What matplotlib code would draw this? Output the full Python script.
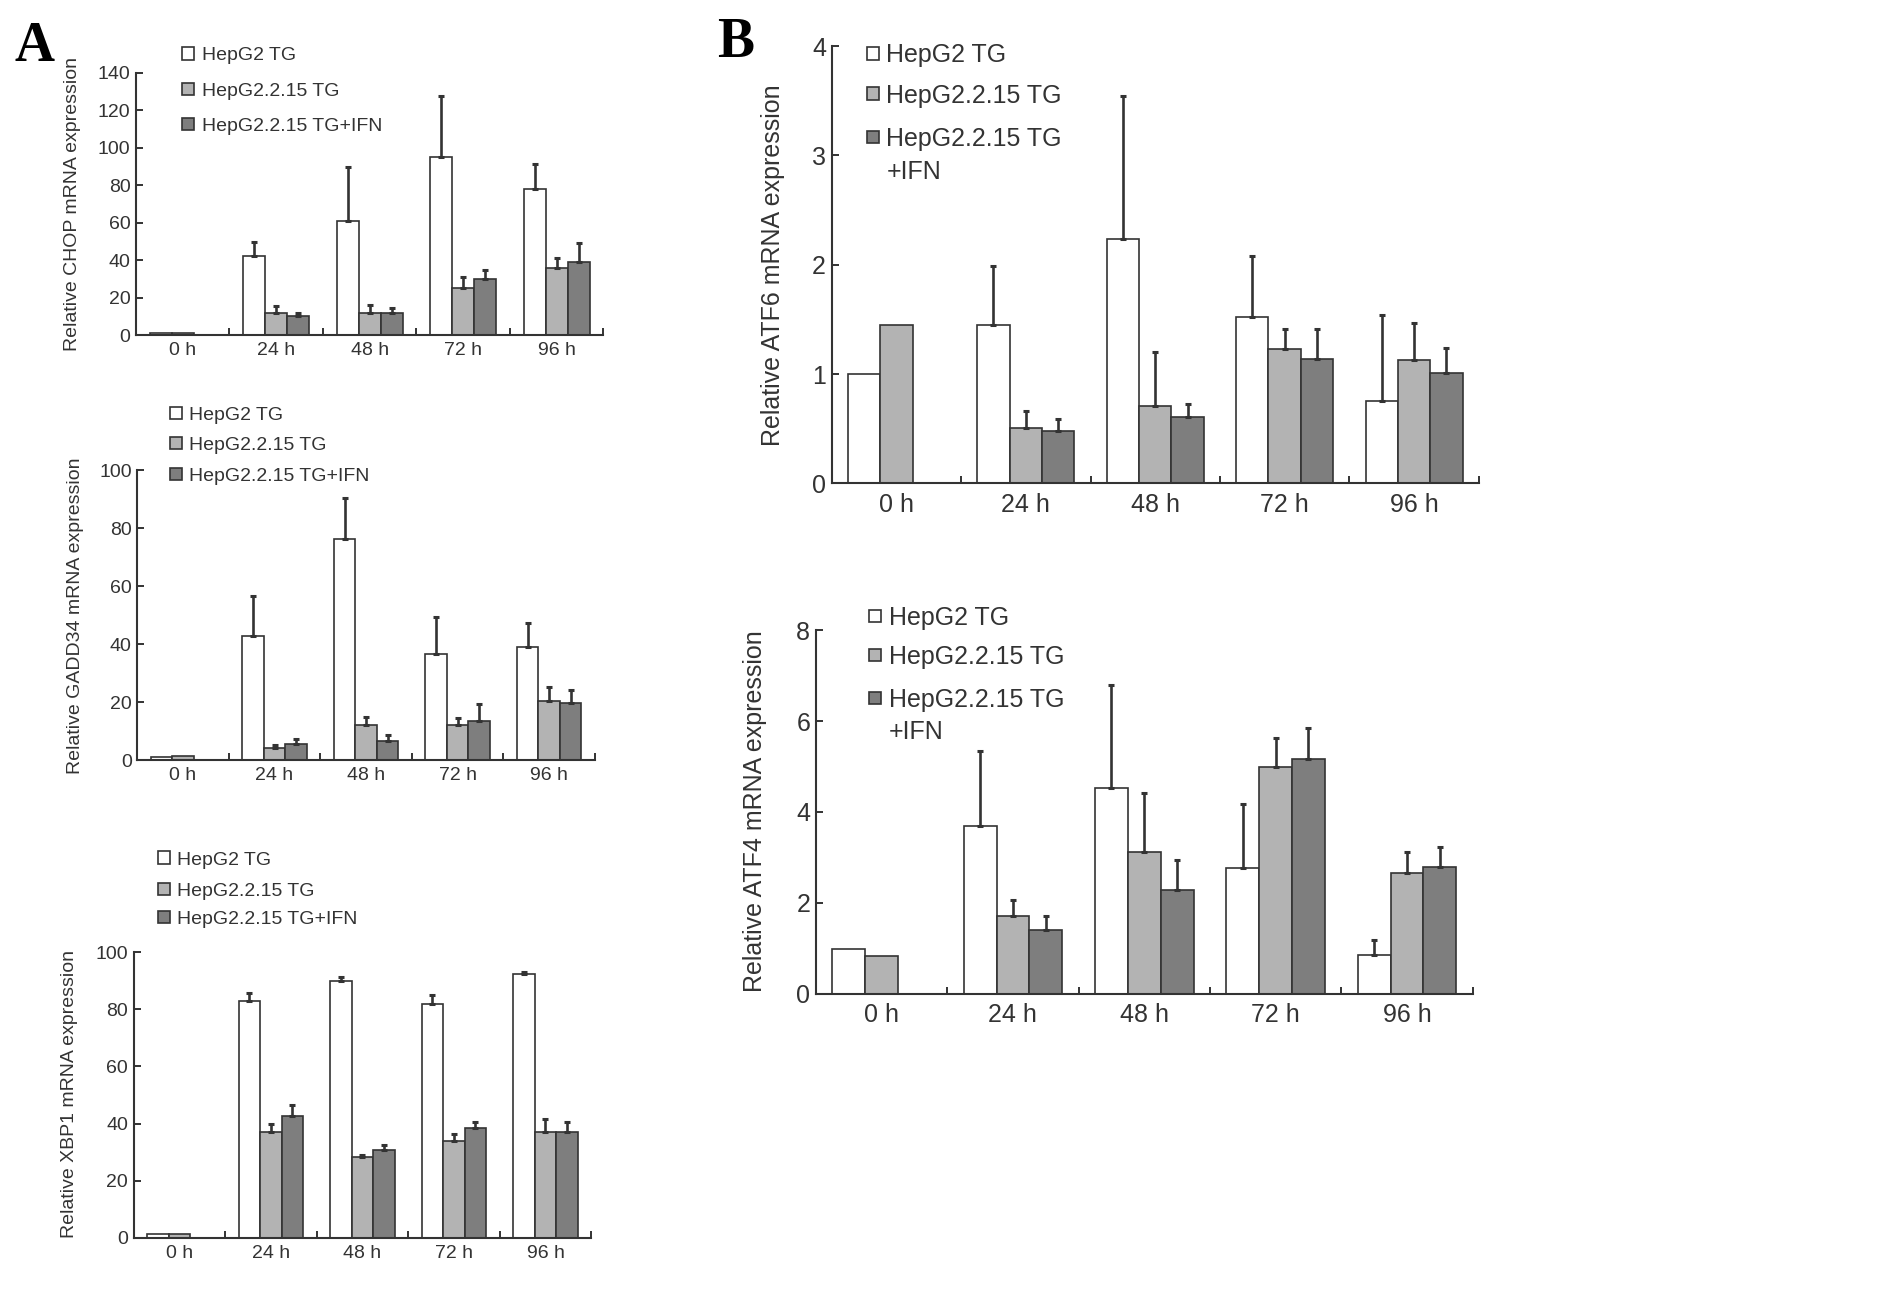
import numpy as np
import matplotlib
matplotlib.use('Agg')
import matplotlib.pyplot as plt
from matplotlib.patches import Rectangle

# ---- data ----
groups = ['0 h', '24 h', '48 h', '72 h', '96 h']
series_names = ['HepG2 TG', 'HepG2.2.15 TG', 'HepG2.2.15 TG+IFN']
nan = np.nan

# CHOP
chop_hepg2 = [1.0, 42.3, 61.0, 94.9, 77.9]
chop_hepg2_err = [nan, 7.3, 29.0, 33.0, 13.4]
chop_215 = [1.0, 12.1, 11.6, 25.3, 35.7]
chop_215_err = [nan, 3.4, 4.6, 5.7, 5.7]
chop_ifn = [nan, 10.3, 11.6, 30.0, 39.2]
chop_ifn_err = [nan, 1.8, 3.0, 4.6, 9.8]

# GADD34
gadd_hepg2 = [1.0, 42.7, 76.1, 36.8, 38.9]
gadd_hepg2_err = [nan, 13.8, 14.4, 12.7, 8.3]
gadd_215 = [1.5, 4.3, 12.3, 12.3, 20.6]
gadd_215_err = [nan, 0.9, 2.7, 2.3, 4.8]
gadd_ifn = [nan, 5.7, 6.8, 13.7, 19.8]
gadd_ifn_err = [nan, 1.7, 2.1, 5.6, 4.4]

# XBP1
xbp_hepg2 = [1.2, 83.0, 90.0, 82.0, 92.4]
xbp_hepg2_err = [nan, 2.9, 1.4, 3.0, 0.6]
xbp_215 = [1.2, 36.9, 28.4, 33.9, 36.9]
xbp_215_err = [nan, 3.0, 0.6, 2.5, 4.6]
xbp_ifn = [nan, 42.7, 30.8, 38.4, 37.2]
xbp_ifn_err = [nan, 3.9, 1.7, 2.3, 3.2]

# ATF6
atf6_hepg2 = [1.0, 1.45, 2.24, 1.52, 0.755]
atf6_hepg2_err = [nan, 0.54, 1.30, 0.56, 0.785]
atf6_215 = [1.45, 0.51, 0.71, 1.23, 1.13]
atf6_215_err = [nan, 0.15, 0.49, 0.18, 0.34]
atf6_ifn = [nan, 0.48, 0.61, 1.14, 1.01]
atf6_ifn_err = [nan, 0.11, 0.12, 0.27, 0.23]

# ATF4
atf4_hepg2 = [0.99, 3.70, 4.53, 2.76, 0.85]
atf4_hepg2_err = [nan, 1.65, 2.26, 1.42, 0.33]
atf4_215 = [0.83, 1.71, 3.11, 4.98, 2.65]
atf4_215_err = [nan, 0.35, 1.31, 0.65, 0.46]
atf4_ifn = [nan, 1.40, 2.29, 5.16, 2.79]
atf4_ifn_err = [nan, 0.30, 0.65, 0.70, 0.43]

colors = ['#ffffff', '#b3b3b3', '#7e7e7e']
ink = '#333333'

plt.rcParams['font.family'] = ['Liberation Sans', 'DejaVu Sans']
plt.rcParams['text.color'] = ink
plt.rcParams['axes.edgecolor'] = ink
plt.rcParams['xtick.color'] = ink
plt.rcParams['ytick.color'] = ink

# layout helpers, in the 1560x1081 frame the reference was measured in
W, H = 1560.0, 1081.0


def fx(x):
    return x / W


def fy(y):
    return 1 - y / H


def make_axes(fig, left, right, top, zero):
    return fig.add_axes([fx(left), fy(zero), fx(right - left), (zero - top) / H])


def bar_panel(ax, values, errors, ymax, yticks, width, fs, xpad):
    x = np.arange(len(groups))
    for i, (vals, errs) in enumerate(zip(values, errors)):
        vals = np.array(vals, float)
        errs = np.array(errs, float)
        pos = x + (i - 1) * width
        ok = ~np.isnan(vals)
        ax.bar(pos[ok], vals[ok], width, color=colors[i], edgecolor=ink,
               linewidth=1.2, zorder=2)
        e_ok = ~np.isnan(errs)
        ax.errorbar(pos[e_ok], vals[e_ok],
                    yerr=[np.zeros(e_ok.sum()), errs[e_ok]],
                    fmt='none', ecolor=ink, elinewidth=1.9, capsize=2.5,
                    capthick=2.2, zorder=3)
    ax.set_xlim(-0.5, len(groups) - 0.5)
    ax.set_ylim(0, ymax)
    ax.set_yticks(yticks)
    ax.set_xticks(x)
    ax.set_xticklabels(groups, fontsize=fs)
    ax.set_xticks(np.arange(0.5, len(groups)), minor=True)
    ax.tick_params(axis='x', which='major', length=0, pad=xpad)
    ax.tick_params(axis='x', which='minor', direction='in', length=5, width=1.4)
    ax.tick_params(axis='y', direction='in', length=5, width=1.4, labelsize=fs, pad=4)
    for s in ['top', 'right']:
        ax.spines[s].set_visible(False)
    for s in ['left', 'bottom']:
        ax.spines[s].set_linewidth(1.5)


def draw_legend(fig, x, rows, size, fs, labels, line_gap=0):
    cap = fs * 100 / 72 * 0.72 / 1.214  # cap height in the measuring frame
    for y, lab, c in zip(rows, labels, colors):
        fig.add_artist(Rectangle((fx(x - size / 2), fy(y + size / 2)), size / W, size / H,
                                 transform=fig.transFigure, facecolor=c,
                                 edgecolor=ink, linewidth=1.2))
        for j, line in enumerate(lab.split('\n')):
            fig.text(fx(x + size / 2 + 6), fy(y + cap / 2 + j * line_gap), line,
                     fontsize=fs, ha='left', va='baseline')


fig = plt.figure(figsize=(18.94, 13.13), dpi=100)

fsA = 14
fsB = 18

# ---- panel A ----
ax1 = make_axes(fig, 112, 497, 60, 276)
bar_panel(ax1, [chop_hepg2, chop_215, chop_ifn], [chop_hepg2_err, chop_215_err, chop_ifn_err],
          140, np.arange(0, 141, 20), 0.235, fsA, 5)
fig.text(fx(60), fy(168), 'Relative CHOP mRNA expression', rotation=90,
         ha='center', va='center', fontsize=fsA)
draw_legend(fig, 155, [44, 73, 102], 10, fsA, series_names)

ax2 = make_axes(fig, 113, 490, 387, 626)
bar_panel(ax2, [gadd_hepg2, gadd_215, gadd_ifn], [gadd_hepg2_err, gadd_215_err, gadd_ifn_err],
          100, np.arange(0, 101, 20), 0.235, fsA, 5)
fig.text(fx(62), fy(507), 'Relative GADD34 mRNA expression', rotation=90,
         ha='center', va='center', fontsize=fsA)
draw_legend(fig, 145, [340, 365, 390], 10, fsA, series_names)

ax3 = make_axes(fig, 110, 487, 784, 1019)
bar_panel(ax3, [xbp_hepg2, xbp_215, xbp_ifn], [xbp_hepg2_err, xbp_215_err, xbp_ifn_err],
          100, np.arange(0, 101, 20), 0.235, fsA, 5)
fig.text(fx(57), fy(901), 'Relative XBP1 mRNA expression', rotation=90,
         ha='center', va='center', fontsize=fsA)
draw_legend(fig, 135, [706, 732, 755], 10, fsA, series_names)

# ---- panel B ----
namesB = ['HepG2 TG', 'HepG2.2.15 TG', 'HepG2.2.15 TG\n+IFN']

ax4 = make_axes(fig, 685, 1218, 38, 398)
bar_panel(ax4, [atf6_hepg2, atf6_215, atf6_ifn], [atf6_hepg2_err, atf6_215_err, atf6_ifn_err],
          4, np.arange(0, 5, 1), 0.25, fsB, 7)
fig.text(fx(637), fy(218), 'Relative ATF6 mRNA expression', rotation=90,
         ha='center', va='center', fontsize=fsB)
draw_legend(fig, 719, [44, 77, 113], 10, fsB, namesB, line_gap=27)

ax5 = make_axes(fig, 672, 1213, 519, 818)
bar_panel(ax5, [atf4_hepg2, atf4_215, atf4_ifn], [atf4_hepg2_err, atf4_215_err, atf4_ifn_err],
          8, np.arange(0, 9, 2), 0.25, fsB, 7)
fig.text(fx(622), fy(668), 'Relative ATF4 mRNA expression', rotation=90,
         ha='center', va='center', fontsize=fsB)
draw_legend(fig, 721, [507, 539, 575], 10, fsB, namesB, line_gap=26)

# panel letters
fig.text(fx(12), fy(50), 'A', fontsize=40, fontweight='bold',
         family=['Liberation Serif', 'DejaVu Serif'], color='black', ha='left', va='baseline')
fig.text(fx(591), fy(47), 'B', fontsize=40, fontweight='bold',
         family=['Liberation Serif', 'DejaVu Serif'], color='black', ha='left', va='baseline')

fig.savefig('out.png', dpi=100, facecolor='white')
